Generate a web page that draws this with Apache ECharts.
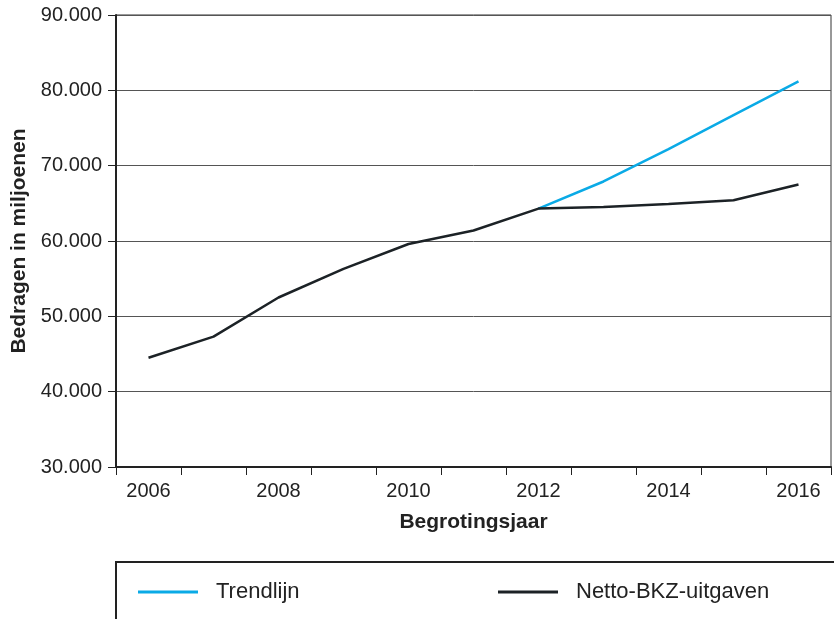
<!DOCTYPE html>
<html>
<head>
<meta charset="utf-8">
<script src="https://cdn.jsdelivr.net/npm/echarts@6/dist/echarts.min.js"></script>
<style>
    html, body {margin: 0; padding: 0; background: #fff;}
    #main {width: 834px; height: 619px;}
</style>
</head>
<body>
<div id="main"></div>
<script>
// data
var years = ['2006', '2007', '2008', '2009', '2010', '2011', '2012', '2013', '2014', '2015', '2016'];
var netto = [44500, 47300, 52500, 56300, 59600, 61400, 64300, 64500, 64900, 65400, 67500];
var trend = [null, null, null, null, null, null, 64300, 67900, 72200, 76700, 81200];
var yTicks = [30000, 40000, 50000, 60000, 70000, 80000, 90000];

var fmt = function (v) {
    // 60000 -> 60.000
    return String(v).replace(/\B(?=(\d{3})+(?!\d))/g, '.');
};

var font = 'Liberation Sans, Arial, sans-serif';
var legendText = {fontFamily: font, fontSize: 22, color: '#222', padding: [0, 0, 0, 13]};

var myChart = echarts.init(document.getElementById('main'));
var options = {
    animation: false,
    grid: {
        left: 116, right: 3, top: 15, bottom: 152,
        show: true,
        borderColor: '#333',
        borderWidth: 1
    },
    legend: [
        {
            data: ['Trendlijn'],
            left: 133, top: 576,
            icon: 'rect', itemWidth: 60, itemHeight: 3,
            textStyle: legendText
        },
        {
            data: ['Netto-BKZ-uitgaven'],
            left: 493, top: 576,
            icon: 'rect', itemWidth: 60, itemHeight: 3,
            textStyle: legendText
        }
    ],
    graphic: [
        {
            type: 'rect',
            shape: {x: 116, y: 562, width: 730, height: 80},
            style: {fill: 'none', stroke: '#222', lineWidth: 2}
        }
    ],
    xAxis: {
        type: 'category',
        data: years,
        boundaryGap: true,
        name: 'Begrotingsjaar',
        nameLocation: 'middle',
        nameGap: 45,
        nameTextStyle: {fontFamily: font, fontSize: 21, fontWeight: 'bold', color: '#222'},
        axisLine: {lineStyle: {color: '#222', width: 2}},
        axisTick: {show: true, interval: 0, length: 8, lineStyle: {color: '#222'}},
        axisLabel: {interval: 1, margin: 14, fontFamily: font, fontSize: 20, color: '#222'},
        splitLine: {show: false}
    },
    yAxis: {
        type: 'value',
        min: yTicks[0],
        max: yTicks[yTicks.length - 1],
        interval: 10000,
        name: 'Bedragen in miljoenen',
        nameLocation: 'middle',
        nameGap: 84,
        nameTextStyle: {fontFamily: font, fontSize: 21, fontWeight: 'bold', color: '#222'},
        axisLine: {show: true, lineStyle: {color: '#222', width: 2}},
        axisTick: {show: true, length: 8, lineStyle: {color: '#222'}},
        axisLabel: {margin: 14, fontFamily: font, fontSize: 20, color: '#222', formatter: fmt},
        splitLine: {show: true, lineStyle: {color: '#555', width: 1}}
    },
    series: [
        {
            name: 'Trendlijn',
            type: 'line',
            data: trend,
            showSymbol: false,
            symbol: 'none',
            lineStyle: {color: '#0aaae6', width: 2.5},
            itemStyle: {color: '#0aaae6'}
        },
        {
            name: 'Netto-BKZ-uitgaven',
            type: 'line',
            data: netto,
            showSymbol: false,
            symbol: 'none',
            lineStyle: {color: '#1c2226', width: 2.5},
            itemStyle: {color: '#1c2226'}
        }
    ]
};
myChart.setOption(options);
</script>
</body>
</html>
